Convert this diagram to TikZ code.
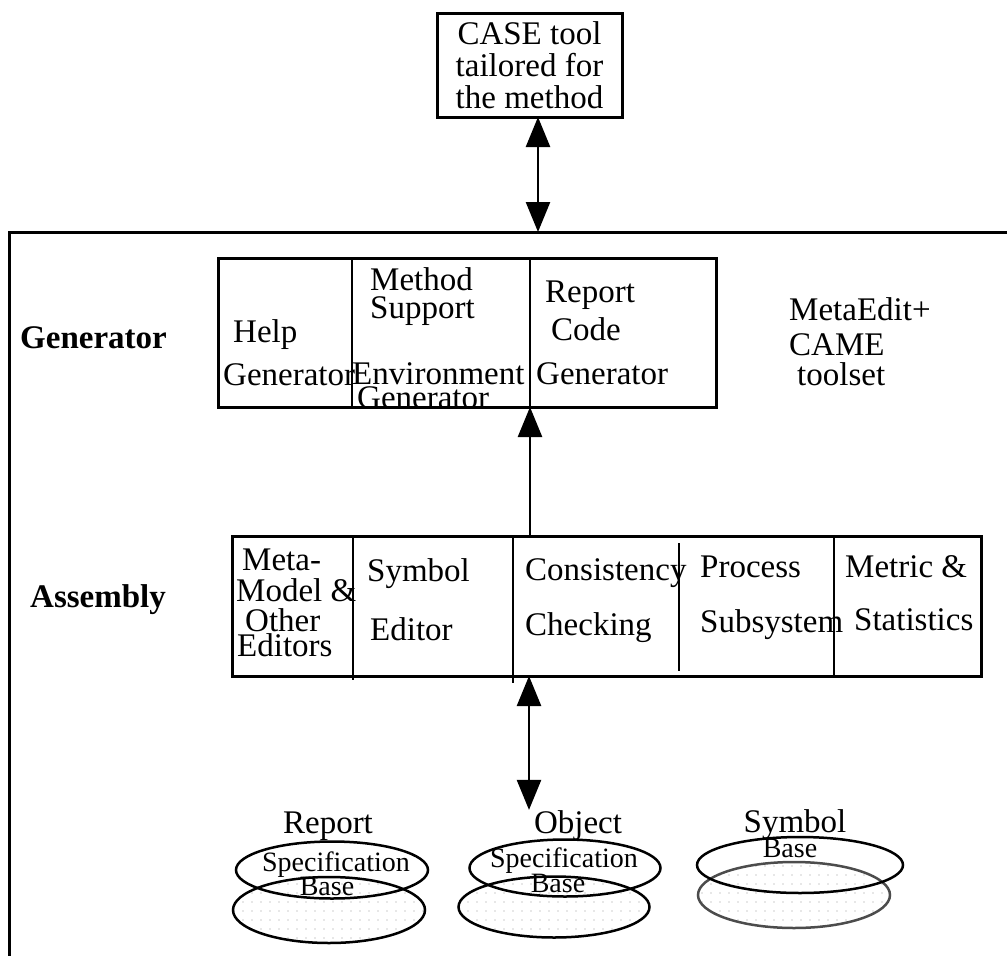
\documentclass[tikz,border=0pt]{standalone}
\usepackage{fontspec}
\setmainfont{Liberation Serif}
\usetikzlibrary{arrows.meta,shapes.geometric,patterns.meta}

\tikzset{
  txt/.style={anchor=base west, inner sep=0pt, font=\fontsize{33}{36}\selectfont},
  hdr/.style={anchor=base west, inner sep=0pt, font=\fontsize{33}{36}\selectfont\bfseries},
  dbname/.style={anchor=base, inner sep=0pt, font=\fontsize{33}{36}\selectfont},
  dbsub/.style={anchor=base, inner sep=0pt, font=\fontsize{28}{30}\selectfont},
  frm/.style={line width=3pt},
  boxline/.style={draw, line width=3pt, inner sep=0pt, outer sep=0pt},
  divider/.style={line width=2pt},
  link/.style={line width=2.5pt},
  bigtip/.tip={Triangle[length=30pt,width=24pt]},
  lower/.style={ellipse, draw, line width=2.5pt, inner sep=0pt, outer sep=0pt,
    pattern={Dots[distance=9pt,radius=0.6pt]}, pattern color=black!40},
  upper/.style={ellipse, draw, line width=2.5pt, inner sep=0pt, outer sep=0pt},
}

\begin{document}
\begin{tikzpicture}[x=1pt,y=-1pt]
\useasboundingbox (0,0) rectangle (1007,956);

% outer toolset frame (open to the right and below)
\coordinate (fr) at (9,232);
\draw[frm] (1007,232) -- (fr) -- (9,956);

% tool produced by the environment
\node[boxline, minimum width=185pt, minimum height=104pt, align=center,
      font=\fontsize{33}{32}\selectfont] (case) at (529.5,65)
      {CASE tool\\tailored for\\the method};
\coordinate (a1) at (538,0);
\draw[link, {bigtip}-{bigtip}] (case.south -| a1) -- (fr -| a1);

% generator layer
\node[boxline, minimum width=498pt, minimum height=149pt] (gen) at (467,332.5) {};
\draw[divider] (352,258) -- (352,407);
\draw[divider] (530,258) -- (530,407);
\node[hdr] (genlbl) at (20,348) {Generator};
\node[txt] (help1) at (233,342) {Help};
\node[txt] (help2) at (223,385) {Generator};
\node[txt] (mse1) at (370,290) {Method};
\node[txt] (mse2) at (370,318) {Support};
\node[txt] (mse3) at (352,384) {Environment};
\node[txt] (mse4) at (357,408) {Generator};
\node[txt] (rcg1) at (545,302) {Report};
\node[txt] (rcg2) at (551,340) {Code};
\node[txt] (rcg3) at (536,384) {Generator};
\node[txt] (me1) at (789,320) {MetaEdit+};
\node[txt] (me2) at (789,355) {CAME};
\node[txt] (me3) at (797,385) {toolset};

% assembly layer
\node[boxline, minimum width=749pt, minimum height=140pt] (asm) at (606.5,606) {};
\draw[divider] (353,536) -- (353,680);
\draw[divider] (513,536) -- (513,683);
\draw[divider] (679,543) -- (679,671);
\draw[divider] (834,536) -- (834,676);
\node[hdr] (asmlbl) at (30,607) {Assembly};
\node[txt] (mm1) at (242,570) {Meta-};
\node[txt] (mm2) at (236,601) {Model \&};
\node[txt] (mm3) at (245,631) {Other};
\node[txt] (mm4) at (237,656) {Editors};
\node[txt] (se1) at (367,581) {Symbol};
\node[txt] (se2) at (370,640) {Editor};
\node[txt] (cc1) at (525,580) {Consistency};
\node[txt] (cc2) at (525,635) {Checking};
\node[txt] (ps1) at (700,577) {Process};
\node[txt] (ps2) at (700,632) {Subsystem};
\node[txt] (ms1) at (845,577) {Metric \&};
\node[txt] (ms2) at (854,630) {Statistics};

\coordinate (a2) at (530,0);
\draw[link, -{bigtip}] (asm.north -| a2) -- (gen.south -| a2);

% repositories
\node[lower, minimum width=192pt, minimum height=66pt] (rbot) at (329,910) {};
\node[lower, minimum width=191pt, minimum height=61pt] (obot) at (554,907) {};
\node[lower, draw=black!70, minimum width=192pt, minimum height=66pt] (sbot) at (794,895) {};
\node[upper, minimum width=192pt, minimum height=57pt] (rtop) at (332,870) {};
\node[upper, minimum width=191pt, minimum height=57pt] (otop) at (565,868) {};
\node[upper, minimum width=206pt, minimum height=56pt] (stop) at (800,865) {};

\node[dbname] (rname) at (328,833) {Report};
\node[dbsub] (rspec) at (336,871) {Specification};
\node[dbsub] (rbase) at (327,895) {Base};
\node[dbname] (oname) at (578,833) {Object};
\node[dbsub] (ospec) at (564,867) {Specification};
\node[dbsub] (obase) at (558,892) {Base};
\node[dbname] (sname) at (795,832) {Symbol};
\node[dbsub] (sbase) at (790,857) {Base};

\coordinate (a3) at (529,0);
\draw[link, {bigtip}-{bigtip}] (asm.south -| a3) -- (oname.north -| a3);
\end{tikzpicture}
\end{document}
